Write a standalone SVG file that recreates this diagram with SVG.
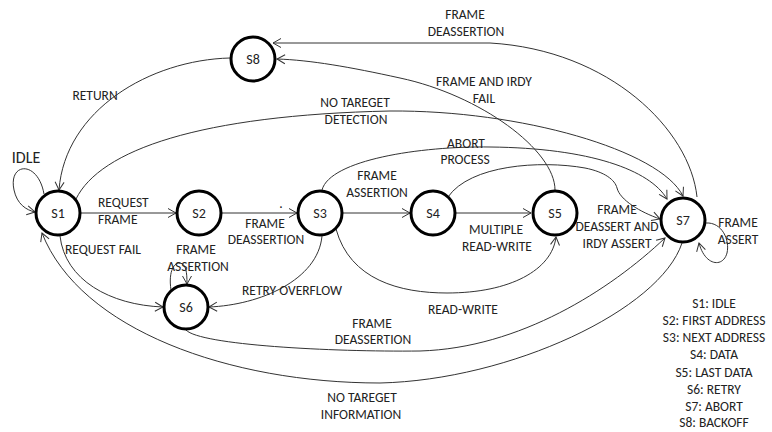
<svg xmlns="http://www.w3.org/2000/svg" width="772" height="432" viewBox="0 0 772 432">
<defs>
<marker id="arr" markerUnits="userSpaceOnUse" viewBox="-10 -6 12 12" refX="0" refY="0" markerWidth="12" markerHeight="12" orient="auto">
<path d="M -8,-4.5 L 0,0 L -8,4.5" fill="none" stroke="#333" stroke-width="1"/>
</marker>
<style>
.node circle{fill:#fff;stroke:#000;stroke-width:3}
.node text{font-family:Carlito,Calibri,Lato,"Liberation Sans",sans-serif;font-size:14px;fill:#222;text-anchor:middle}
.edge{fill:none;stroke:#333;stroke-width:1;marker-end:url(#arr)}
.plain{fill:none;stroke:#333;stroke-width:1}
.lbl{font-family:Carlito,Calibri,Lato,"Liberation Sans",sans-serif;font-size:13.5px;fill:#222;text-anchor:middle}
.lft{text-anchor:start}
</style>
</defs>
<rect width="772" height="432" fill="#fff"/>
<g id="connectors">
<path class="edge" d="M 44,194 C 38,160 8,162 14,190 C 17,204 26,210 35,212"/>
<path class="edge" d="M 81,213 L 176,213"/>
<path class="edge" d="M 222,213 L 297,213"/>
<path class="edge" d="M 343,213 L 410,213"/>
<path class="edge" d="M 456,213 L 531,213"/>
<path class="edge" d="M 336,229 C 350,280 400,293 447,293 C 510,293 552,270 556,237"/>
<path class="edge" d="M 322,190 C 330,160 420,146 490,147 C 590,148 650,170 667,199"/>
<path class="edge" d="M 448,197 C 470,165 540,160 585,168 C 605,172 615,180 617,188 C 620,200 640,212 660,219"/>
<path class="edge" d="M 555,190 C 555,150 480,95 400,78 C 350,67 310,60 277,59"/>
<path class="edge" d="M 697,197 C 690,130 610,50 490,43 L 273,43"/>
<path class="edge" d="M 76,199 C 100,150 200,115 390,111 C 520,110 660,150 683,196"/>
<path class="edge" d="M 230,58 C 150,60 65,110 59,190"/>
<path class="edge" d="M 60,236 C 65,280 110,305 163,307"/>
<path class="edge" d="M 171,290 C 168,270 175,262 180,263 C 186,264 187,272 187,284"/>
<path class="edge" d="M 322,236 C 318,280 260,305 209,307"/>
<path class="edge" d="M 186,330 C 200,345 330,352 420,351 C 520,348 610,290 665,238"/>
<path class="edge" d="M 682,243 C 660,310 510,380 380,383 C 230,383 80,330 42,233"/>
<path class="edge" d="M 706,223 C 722,222 730,240 727,253 C 723,268 705,266 699,243"/>
</g>
<g id="S1" class="node"><circle cx="58" cy="213" r="22"/><text x="58" y="218">S1</text></g>
<g id="S2" class="node"><circle cx="199" cy="213" r="22"/><text x="199" y="218">S2</text></g>
<g id="S3" class="node"><circle cx="320" cy="213" r="22"/><text x="320" y="218">S3</text></g>
<g id="S4" class="node"><circle cx="433" cy="213" r="22"/><text x="433" y="218">S4</text></g>
<g id="S5" class="node"><circle cx="555" cy="213" r="22"/><text x="555" y="218">S5</text></g>
<g id="S6" class="node"><circle cx="186" cy="307" r="22"/><text x="186" y="312">S6</text></g>
<g id="S7" class="node"><circle cx="683" cy="220" r="22"/><text x="683" y="225">S7</text></g>
<g id="S8" class="node"><circle cx="253" cy="59" r="22"/><text x="253" y="64">S8</text></g>
<g id="labels">
<text class="lbl" x="26" y="163" style="font-size:16px">IDLE</text>
<text class="lbl lft" x="98" y="207">REQUEST</text>
<text class="lbl lft" x="98" y="224">FRAME</text>
<text class="lbl" x="265" y="228">FRAME</text>
<text class="lbl" x="266" y="244">DEASSERTION</text>
<text class="lbl" x="281" y="208">.</text>
<text class="lbl" x="377" y="180">FRAME</text>
<text class="lbl" x="377" y="197">ASSERTION</text>
<text class="lbl" x="496" y="234">MULTIPLE</text>
<text class="lbl" x="497" y="251">READ-WRITE</text>
<text class="lbl" x="463" y="314">READ-WRITE</text>
<text class="lbl" x="466" y="148">ABORT</text>
<text class="lbl" x="465" y="164">PROCESS</text>
<text class="lbl" x="617" y="214">FRAME</text>
<text class="lbl" x="617" y="231">DEASSERT AND</text>
<text class="lbl" x="617" y="248">IRDY ASSERT</text>
<text class="lbl" x="484" y="86">FRAME AND IRDY</text>
<text class="lbl" x="484" y="103">FAIL</text>
<text class="lbl" x="465" y="19">FRAME</text>
<text class="lbl" x="466" y="36">DEASSERTION</text>
<text class="lbl" x="355" y="107">NO TAREGET</text>
<text class="lbl" x="356" y="124">DETECTION</text>
<text class="lbl" x="95" y="100">RETURN</text>
<text class="lbl lft" x="65" y="254">REQUEST FAIL</text>
<text class="lbl" x="196" y="254">FRAME</text>
<text class="lbl" x="198" y="271">ASSERTION</text>
<text class="lbl" x="292" y="295">RETRY OVERFLOW</text>
<text class="lbl" x="372" y="328">FRAME</text>
<text class="lbl" x="373" y="344">DEASSERTION</text>
<text class="lbl" x="362" y="402">NO TAREGET</text>
<text class="lbl" x="361" y="419">INFORMATION</text>
<text class="lbl" x="738" y="227">FRAME</text>
<text class="lbl" x="738" y="244">ASSERT</text>
</g>
<g id="legend">
<text class="lbl" x="714" y="308">S1: IDLE</text>
<text class="lbl" x="714" y="325">S2: FIRST ADDRESS</text>
<text class="lbl" x="714" y="342">S3: NEXT ADDRESS</text>
<text class="lbl" x="714" y="359">S4: DATA</text>
<text class="lbl" x="714" y="377">S5: LAST DATA</text>
<text class="lbl" x="714" y="394">S6: RETRY</text>
<text class="lbl" x="714" y="411">S7: ABORT</text>
<text class="lbl" x="714" y="427">S8: BACKOFF</text>
</g>
</svg>
